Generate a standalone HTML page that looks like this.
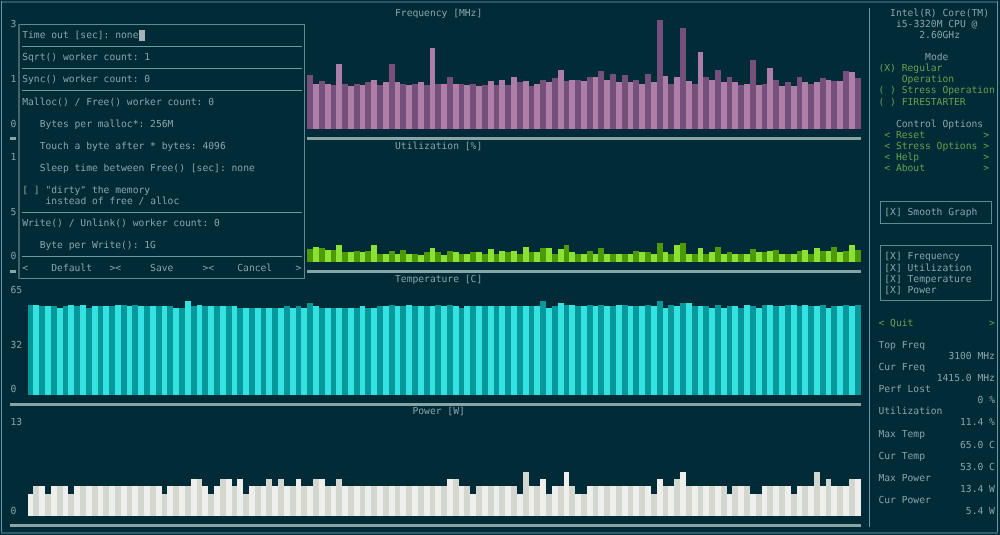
<!DOCTYPE html>
<html><head><meta charset="utf-8"><style>
html,body{margin:0;padding:0;background:#012b37;}
#s{position:relative;width:1000px;height:535px;overflow:hidden;background:#012b37;}
.t{position:absolute;white-space:pre;text-rendering:geometricPrecision;font-family:"DejaVu Sans Mono","Liberation Mono",monospace;font-size:9.675px;line-height:11px;color:#87a3aa;}
.r{position:absolute;}
</style></head><body><div id="s">
<div class="r" style="left:1.00px;top:1.00px;width:997.00px;height:2.00px;background:#2a5661"></div>
<div class="r" style="left:1.00px;top:1.00px;width:1.00px;height:533.00px;background:#6a98a2"></div>
<div class="r" style="left:997.00px;top:1.00px;width:1.00px;height:533.00px;background:#6a98a2"></div>
<div class="r" style="left:1.00px;top:532.00px;width:997.00px;height:2.00px;background:#2f5c66"></div>
<div class="t" style="left:395.00px;top:8px">Frequency [MHz]</div>
<div class="t" style="left:395.00px;top:141px">Utilization [%]</div>
<div class="t" style="left:395.00px;top:274px">Temperature [C]</div>
<div class="t" style="left:412.47px;top:406px">Power [W]</div>
<div class="t" style="left:10.55px;top:19px">3</div>
<div class="t" style="left:10.55px;top:74px">1</div>
<div class="t" style="left:10.55px;top:119px">0</div>
<div class="t" style="left:10.55px;top:152px">1</div>
<div class="t" style="left:10.55px;top:207px">5</div>
<div class="t" style="left:10.55px;top:251px">0</div>
<div class="t" style="left:10.55px;top:285px">65</div>
<div class="t" style="left:10.55px;top:340px">32</div>
<div class="t" style="left:10.55px;top:384px">0</div>
<div class="t" style="left:10.55px;top:417px">13</div>
<div class="t" style="left:10.55px;top:506px">0</div>
<div class="r" style="left:10.00px;top:137.00px;width:851.00px;height:3.00px;background:#88a4a6"></div>
<div class="r" style="left:10.00px;top:270.00px;width:851.00px;height:3.00px;background:#88a4a6"></div>
<div class="r" style="left:10.00px;top:403.00px;width:851.00px;height:3.00px;background:#88a4a6"></div>
<div class="r" style="left:10.00px;top:524.00px;width:851.00px;height:3.00px;background:#88a4a6"></div>
<div class="r" style="left:869.00px;top:8.00px;width:1.00px;height:519.00px;background:#6a98a2"></div>
<div class="t" style="left:890.12px;top:8px">Intel(R) Core(TM)</div>
<div class="t" style="left:895.95px;top:19px">i5-3320M CPU @</div>
<div class="t" style="left:919.25px;top:30px">2.60GHz</div>
<div class="t" style="left:925.08px;top:52px">Mode</div>
<div class="t" style="left:878.48px;top:63px;color:#62a24e">(X) Regular</div>
<div class="t" style="left:901.77px;top:74px;color:#62a24e">Operation</div>
<div class="t" style="left:878.48px;top:85px;color:#62a24e">( ) Stress Operation</div>
<div class="t" style="left:878.48px;top:97px;color:#62a24e">( ) FIRESTARTER</div>
<div class="t" style="left:895.95px;top:119px">Control Options</div>
<div class="t" style="left:884.30px;top:130px;color:#62a24e">&lt; Reset          &gt;</div>
<div class="t" style="left:884.30px;top:141px;color:#62a24e">&lt; Stress Options &gt;</div>
<div class="t" style="left:884.30px;top:152px;color:#62a24e">&lt; Help           &gt;</div>
<div class="t" style="left:884.30px;top:163px;color:#62a24e">&lt; About          &gt;</div>
<div class="t" style="left:884.30px;top:207px">[X] Smooth Graph</div>
<div class="t" style="left:884.30px;top:251px">[X] Frequency</div>
<div class="t" style="left:884.30px;top:263px">[X] Utilization</div>
<div class="t" style="left:884.30px;top:274px">[X] Temperature</div>
<div class="t" style="left:884.30px;top:285px">[X] Power</div>
<div class="t" style="left:878.48px;top:318px;color:#62a24e">&lt; Quit             &gt;</div>
<div class="t" style="left:878.48px;top:340px">Top Freq</div>
<div class="t" style="left:948.38px;top:351px">3100 MHz</div>
<div class="t" style="left:878.48px;top:362px">Cur Freq</div>
<div class="t" style="left:936.73px;top:373px">1415.0 MHz</div>
<div class="t" style="left:878.48px;top:384px">Perf Lost</div>
<div class="t" style="left:977.50px;top:395px">0 %</div>
<div class="t" style="left:878.48px;top:406px">Utilization</div>
<div class="t" style="left:960.02px;top:417px">11.4 %</div>
<div class="t" style="left:878.48px;top:429px">Max Temp</div>
<div class="t" style="left:960.02px;top:440px">65.0 C</div>
<div class="t" style="left:878.48px;top:451px">Cur Temp</div>
<div class="t" style="left:960.02px;top:462px">53.0 C</div>
<div class="t" style="left:878.48px;top:473px">Max Power</div>
<div class="t" style="left:960.02px;top:484px">13.4 W</div>
<div class="t" style="left:878.48px;top:495px">Cur Power</div>
<div class="t" style="left:965.85px;top:506px">5.4 W</div>
<div class="r" style="left:880.00px;top:201.00px;width:112.00px;height:1.00px;background:#5d8b94"></div>
<div class="r" style="left:880.00px;top:223.00px;width:112.00px;height:1.00px;background:#5d8b94"></div>
<div class="r" style="left:880.00px;top:201.00px;width:1.00px;height:23.00px;background:#5d8b94"></div>
<div class="r" style="left:991.00px;top:201.00px;width:1.00px;height:23.00px;background:#5d8b94"></div>
<div class="r" style="left:880.00px;top:245.00px;width:112.00px;height:1.00px;background:#5d8b94"></div>
<div class="r" style="left:880.00px;top:300.00px;width:112.00px;height:1.00px;background:#5d8b94"></div>
<div class="r" style="left:880.00px;top:245.00px;width:1.00px;height:56.00px;background:#5d8b94"></div>
<div class="r" style="left:991.00px;top:245.00px;width:1.00px;height:56.00px;background:#5d8b94"></div>
<div class="r" style="left:307px;top:75px;width:6px;height:54px;background:#75507b"></div>
<div class="r" style="left:313px;top:84px;width:6px;height:45px;background:#ad7fa8"></div>
<div class="r" style="left:319px;top:81px;width:6px;height:48px;background:#75507b"></div>
<div class="r" style="left:325px;top:84px;width:6px;height:45px;background:#ad7fa8"></div>
<div class="r" style="left:331px;top:85px;width:5px;height:44px;background:#75507b"></div>
<div class="r" style="left:336px;top:64px;width:6px;height:65px;background:#ad7fa8"></div>
<div class="r" style="left:342px;top:84px;width:6px;height:45px;background:#75507b"></div>
<div class="r" style="left:348px;top:86px;width:6px;height:43px;background:#ad7fa8"></div>
<div class="r" style="left:354px;top:84px;width:6px;height:45px;background:#75507b"></div>
<div class="r" style="left:360px;top:85px;width:5px;height:44px;background:#ad7fa8"></div>
<div class="r" style="left:365px;top:82px;width:6px;height:47px;background:#75507b"></div>
<div class="r" style="left:371px;top:80px;width:6px;height:49px;background:#ad7fa8"></div>
<div class="r" style="left:377px;top:85px;width:6px;height:44px;background:#75507b"></div>
<div class="r" style="left:383px;top:82px;width:6px;height:47px;background:#ad7fa8"></div>
<div class="r" style="left:389px;top:64px;width:6px;height:65px;background:#75507b"></div>
<div class="r" style="left:395px;top:82px;width:5px;height:47px;background:#ad7fa8"></div>
<div class="r" style="left:400px;top:84px;width:6px;height:45px;background:#75507b"></div>
<div class="r" style="left:406px;top:85px;width:6px;height:44px;background:#ad7fa8"></div>
<div class="r" style="left:412px;top:84px;width:6px;height:45px;background:#75507b"></div>
<div class="r" style="left:418px;top:82px;width:6px;height:47px;background:#ad7fa8"></div>
<div class="r" style="left:424px;top:85px;width:6px;height:44px;background:#75507b"></div>
<div class="r" style="left:430px;top:48px;width:5px;height:81px;background:#ad7fa8"></div>
<div class="r" style="left:435px;top:84px;width:6px;height:45px;background:#75507b"></div>
<div class="r" style="left:441px;top:84px;width:6px;height:45px;background:#ad7fa8"></div>
<div class="r" style="left:447px;top:77px;width:6px;height:52px;background:#75507b"></div>
<div class="r" style="left:453px;top:84px;width:6px;height:45px;background:#ad7fa8"></div>
<div class="r" style="left:459px;top:84px;width:5px;height:45px;background:#75507b"></div>
<div class="r" style="left:464px;top:85px;width:6px;height:44px;background:#ad7fa8"></div>
<div class="r" style="left:470px;top:84px;width:6px;height:45px;background:#75507b"></div>
<div class="r" style="left:476px;top:86px;width:6px;height:43px;background:#ad7fa8"></div>
<div class="r" style="left:482px;top:85px;width:6px;height:44px;background:#75507b"></div>
<div class="r" style="left:488px;top:81px;width:6px;height:48px;background:#ad7fa8"></div>
<div class="r" style="left:494px;top:85px;width:5px;height:44px;background:#75507b"></div>
<div class="r" style="left:499px;top:80px;width:6px;height:49px;background:#ad7fa8"></div>
<div class="r" style="left:505px;top:85px;width:6px;height:44px;background:#75507b"></div>
<div class="r" style="left:511px;top:77px;width:6px;height:52px;background:#ad7fa8"></div>
<div class="r" style="left:517px;top:82px;width:6px;height:47px;background:#75507b"></div>
<div class="r" style="left:523px;top:81px;width:6px;height:48px;background:#ad7fa8"></div>
<div class="r" style="left:529px;top:86px;width:5px;height:43px;background:#75507b"></div>
<div class="r" style="left:534px;top:84px;width:6px;height:45px;background:#ad7fa8"></div>
<div class="r" style="left:540px;top:80px;width:6px;height:49px;background:#75507b"></div>
<div class="r" style="left:546px;top:82px;width:6px;height:47px;background:#ad7fa8"></div>
<div class="r" style="left:552px;top:78px;width:6px;height:51px;background:#75507b"></div>
<div class="r" style="left:558px;top:70px;width:6px;height:59px;background:#ad7fa8"></div>
<div class="r" style="left:564px;top:81px;width:5px;height:48px;background:#75507b"></div>
<div class="r" style="left:569px;top:80px;width:6px;height:49px;background:#ad7fa8"></div>
<div class="r" style="left:575px;top:80px;width:6px;height:49px;background:#75507b"></div>
<div class="r" style="left:581px;top:81px;width:6px;height:48px;background:#ad7fa8"></div>
<div class="r" style="left:587px;top:77px;width:6px;height:52px;background:#75507b"></div>
<div class="r" style="left:593px;top:77px;width:5px;height:52px;background:#ad7fa8"></div>
<div class="r" style="left:598px;top:71px;width:6px;height:58px;background:#75507b"></div>
<div class="r" style="left:604px;top:80px;width:6px;height:49px;background:#ad7fa8"></div>
<div class="r" style="left:610px;top:74px;width:6px;height:55px;background:#75507b"></div>
<div class="r" style="left:616px;top:82px;width:6px;height:47px;background:#ad7fa8"></div>
<div class="r" style="left:622px;top:75px;width:6px;height:54px;background:#75507b"></div>
<div class="r" style="left:628px;top:82px;width:5px;height:47px;background:#ad7fa8"></div>
<div class="r" style="left:633px;top:80px;width:6px;height:49px;background:#75507b"></div>
<div class="r" style="left:639px;top:84px;width:6px;height:45px;background:#ad7fa8"></div>
<div class="r" style="left:645px;top:74px;width:6px;height:55px;background:#75507b"></div>
<div class="r" style="left:651px;top:82px;width:6px;height:47px;background:#ad7fa8"></div>
<div class="r" style="left:657px;top:20px;width:6px;height:109px;background:#75507b"></div>
<div class="r" style="left:663px;top:76px;width:5px;height:53px;background:#ad7fa8"></div>
<div class="r" style="left:668px;top:84px;width:6px;height:45px;background:#75507b"></div>
<div class="r" style="left:674px;top:77px;width:6px;height:52px;background:#ad7fa8"></div>
<div class="r" style="left:680px;top:28px;width:6px;height:101px;background:#75507b"></div>
<div class="r" style="left:686px;top:81px;width:6px;height:48px;background:#ad7fa8"></div>
<div class="r" style="left:692px;top:84px;width:6px;height:45px;background:#75507b"></div>
<div class="r" style="left:698px;top:52px;width:5px;height:77px;background:#ad7fa8"></div>
<div class="r" style="left:703px;top:77px;width:6px;height:52px;background:#75507b"></div>
<div class="r" style="left:709px;top:80px;width:6px;height:49px;background:#ad7fa8"></div>
<div class="r" style="left:715px;top:70px;width:6px;height:59px;background:#75507b"></div>
<div class="r" style="left:721px;top:82px;width:6px;height:47px;background:#ad7fa8"></div>
<div class="r" style="left:727px;top:77px;width:5px;height:52px;background:#75507b"></div>
<div class="r" style="left:732px;top:82px;width:6px;height:47px;background:#ad7fa8"></div>
<div class="r" style="left:738px;top:85px;width:6px;height:44px;background:#75507b"></div>
<div class="r" style="left:744px;top:84px;width:6px;height:45px;background:#ad7fa8"></div>
<div class="r" style="left:750px;top:60px;width:6px;height:69px;background:#75507b"></div>
<div class="r" style="left:756px;top:85px;width:6px;height:44px;background:#ad7fa8"></div>
<div class="r" style="left:762px;top:84px;width:5px;height:45px;background:#75507b"></div>
<div class="r" style="left:767px;top:68px;width:6px;height:61px;background:#ad7fa8"></div>
<div class="r" style="left:773px;top:80px;width:6px;height:49px;background:#75507b"></div>
<div class="r" style="left:779px;top:86px;width:6px;height:43px;background:#ad7fa8"></div>
<div class="r" style="left:785px;top:82px;width:6px;height:47px;background:#75507b"></div>
<div class="r" style="left:791px;top:86px;width:6px;height:43px;background:#ad7fa8"></div>
<div class="r" style="left:797px;top:77px;width:5px;height:52px;background:#75507b"></div>
<div class="r" style="left:802px;top:82px;width:6px;height:47px;background:#ad7fa8"></div>
<div class="r" style="left:808px;top:84px;width:6px;height:45px;background:#75507b"></div>
<div class="r" style="left:814px;top:82px;width:6px;height:47px;background:#ad7fa8"></div>
<div class="r" style="left:820px;top:78px;width:6px;height:51px;background:#75507b"></div>
<div class="r" style="left:826px;top:80px;width:5px;height:49px;background:#ad7fa8"></div>
<div class="r" style="left:831px;top:81px;width:6px;height:48px;background:#75507b"></div>
<div class="r" style="left:837px;top:81px;width:6px;height:48px;background:#ad7fa8"></div>
<div class="r" style="left:843px;top:71px;width:6px;height:58px;background:#75507b"></div>
<div class="r" style="left:849px;top:72px;width:6px;height:57px;background:#ad7fa8"></div>
<div class="r" style="left:855px;top:78px;width:6px;height:51px;background:#75507b"></div>
<div class="r" style="left:307px;top:249px;width:6px;height:13px;background:#4e9a06"></div>
<div class="r" style="left:313px;top:247px;width:6px;height:15px;background:#8ae234"></div>
<div class="r" style="left:319px;top:248px;width:6px;height:14px;background:#4e9a06"></div>
<div class="r" style="left:325px;top:250px;width:6px;height:12px;background:#8ae234"></div>
<div class="r" style="left:331px;top:250px;width:5px;height:12px;background:#4e9a06"></div>
<div class="r" style="left:336px;top:245px;width:6px;height:17px;background:#8ae234"></div>
<div class="r" style="left:342px;top:252px;width:6px;height:10px;background:#4e9a06"></div>
<div class="r" style="left:348px;top:252px;width:6px;height:10px;background:#8ae234"></div>
<div class="r" style="left:354px;top:251px;width:6px;height:11px;background:#4e9a06"></div>
<div class="r" style="left:360px;top:252px;width:5px;height:10px;background:#8ae234"></div>
<div class="r" style="left:365px;top:251px;width:6px;height:11px;background:#4e9a06"></div>
<div class="r" style="left:371px;top:245px;width:6px;height:17px;background:#8ae234"></div>
<div class="r" style="left:377px;top:254px;width:6px;height:8px;background:#4e9a06"></div>
<div class="r" style="left:383px;top:254px;width:6px;height:8px;background:#8ae234"></div>
<div class="r" style="left:389px;top:251px;width:6px;height:11px;background:#4e9a06"></div>
<div class="r" style="left:395px;top:254px;width:5px;height:8px;background:#8ae234"></div>
<div class="r" style="left:400px;top:250px;width:6px;height:12px;background:#4e9a06"></div>
<div class="r" style="left:406px;top:254px;width:6px;height:8px;background:#8ae234"></div>
<div class="r" style="left:412px;top:254px;width:6px;height:8px;background:#4e9a06"></div>
<div class="r" style="left:418px;top:255px;width:6px;height:7px;background:#8ae234"></div>
<div class="r" style="left:424px;top:252px;width:6px;height:10px;background:#4e9a06"></div>
<div class="r" style="left:430px;top:248px;width:5px;height:14px;background:#8ae234"></div>
<div class="r" style="left:435px;top:252px;width:6px;height:10px;background:#4e9a06"></div>
<div class="r" style="left:441px;top:255px;width:6px;height:7px;background:#8ae234"></div>
<div class="r" style="left:447px;top:251px;width:6px;height:11px;background:#4e9a06"></div>
<div class="r" style="left:453px;top:252px;width:6px;height:10px;background:#8ae234"></div>
<div class="r" style="left:459px;top:254px;width:5px;height:8px;background:#4e9a06"></div>
<div class="r" style="left:464px;top:254px;width:6px;height:8px;background:#8ae234"></div>
<div class="r" style="left:470px;top:252px;width:6px;height:10px;background:#4e9a06"></div>
<div class="r" style="left:476px;top:252px;width:6px;height:10px;background:#8ae234"></div>
<div class="r" style="left:482px;top:254px;width:6px;height:8px;background:#4e9a06"></div>
<div class="r" style="left:488px;top:249px;width:6px;height:13px;background:#8ae234"></div>
<div class="r" style="left:494px;top:254px;width:5px;height:8px;background:#4e9a06"></div>
<div class="r" style="left:499px;top:251px;width:6px;height:11px;background:#8ae234"></div>
<div class="r" style="left:505px;top:252px;width:6px;height:10px;background:#4e9a06"></div>
<div class="r" style="left:511px;top:251px;width:6px;height:11px;background:#8ae234"></div>
<div class="r" style="left:517px;top:254px;width:6px;height:8px;background:#4e9a06"></div>
<div class="r" style="left:523px;top:247px;width:6px;height:15px;background:#8ae234"></div>
<div class="r" style="left:529px;top:252px;width:5px;height:10px;background:#4e9a06"></div>
<div class="r" style="left:534px;top:252px;width:6px;height:10px;background:#8ae234"></div>
<div class="r" style="left:540px;top:248px;width:6px;height:14px;background:#4e9a06"></div>
<div class="r" style="left:546px;top:248px;width:6px;height:14px;background:#8ae234"></div>
<div class="r" style="left:552px;top:254px;width:6px;height:8px;background:#4e9a06"></div>
<div class="r" style="left:558px;top:249px;width:6px;height:13px;background:#8ae234"></div>
<div class="r" style="left:564px;top:245px;width:5px;height:17px;background:#4e9a06"></div>
<div class="r" style="left:569px;top:252px;width:6px;height:10px;background:#8ae234"></div>
<div class="r" style="left:575px;top:254px;width:6px;height:8px;background:#4e9a06"></div>
<div class="r" style="left:581px;top:254px;width:6px;height:8px;background:#8ae234"></div>
<div class="r" style="left:587px;top:251px;width:6px;height:11px;background:#4e9a06"></div>
<div class="r" style="left:593px;top:254px;width:5px;height:8px;background:#8ae234"></div>
<div class="r" style="left:598px;top:248px;width:6px;height:14px;background:#4e9a06"></div>
<div class="r" style="left:604px;top:254px;width:6px;height:8px;background:#8ae234"></div>
<div class="r" style="left:610px;top:254px;width:6px;height:8px;background:#4e9a06"></div>
<div class="r" style="left:616px;top:254px;width:6px;height:8px;background:#8ae234"></div>
<div class="r" style="left:622px;top:254px;width:6px;height:8px;background:#4e9a06"></div>
<div class="r" style="left:628px;top:254px;width:5px;height:8px;background:#8ae234"></div>
<div class="r" style="left:633px;top:251px;width:6px;height:11px;background:#4e9a06"></div>
<div class="r" style="left:639px;top:252px;width:6px;height:10px;background:#8ae234"></div>
<div class="r" style="left:645px;top:252px;width:6px;height:10px;background:#4e9a06"></div>
<div class="r" style="left:651px;top:254px;width:6px;height:8px;background:#8ae234"></div>
<div class="r" style="left:657px;top:243px;width:6px;height:19px;background:#4e9a06"></div>
<div class="r" style="left:663px;top:252px;width:5px;height:10px;background:#8ae234"></div>
<div class="r" style="left:668px;top:254px;width:6px;height:8px;background:#4e9a06"></div>
<div class="r" style="left:674px;top:245px;width:6px;height:17px;background:#8ae234"></div>
<div class="r" style="left:680px;top:243px;width:6px;height:19px;background:#4e9a06"></div>
<div class="r" style="left:686px;top:254px;width:6px;height:8px;background:#8ae234"></div>
<div class="r" style="left:692px;top:254px;width:6px;height:8px;background:#4e9a06"></div>
<div class="r" style="left:698px;top:248px;width:5px;height:14px;background:#8ae234"></div>
<div class="r" style="left:703px;top:254px;width:6px;height:8px;background:#4e9a06"></div>
<div class="r" style="left:709px;top:252px;width:6px;height:10px;background:#8ae234"></div>
<div class="r" style="left:715px;top:247px;width:6px;height:15px;background:#4e9a06"></div>
<div class="r" style="left:721px;top:254px;width:6px;height:8px;background:#8ae234"></div>
<div class="r" style="left:727px;top:252px;width:5px;height:10px;background:#4e9a06"></div>
<div class="r" style="left:732px;top:254px;width:6px;height:8px;background:#8ae234"></div>
<div class="r" style="left:738px;top:254px;width:6px;height:8px;background:#4e9a06"></div>
<div class="r" style="left:744px;top:254px;width:6px;height:8px;background:#8ae234"></div>
<div class="r" style="left:750px;top:249px;width:6px;height:13px;background:#4e9a06"></div>
<div class="r" style="left:756px;top:252px;width:6px;height:10px;background:#8ae234"></div>
<div class="r" style="left:762px;top:252px;width:5px;height:10px;background:#4e9a06"></div>
<div class="r" style="left:767px;top:251px;width:6px;height:11px;background:#8ae234"></div>
<div class="r" style="left:773px;top:250px;width:6px;height:12px;background:#4e9a06"></div>
<div class="r" style="left:779px;top:254px;width:6px;height:8px;background:#8ae234"></div>
<div class="r" style="left:785px;top:254px;width:6px;height:8px;background:#4e9a06"></div>
<div class="r" style="left:791px;top:254px;width:6px;height:8px;background:#8ae234"></div>
<div class="r" style="left:797px;top:251px;width:5px;height:11px;background:#4e9a06"></div>
<div class="r" style="left:802px;top:250px;width:6px;height:12px;background:#8ae234"></div>
<div class="r" style="left:808px;top:254px;width:6px;height:8px;background:#4e9a06"></div>
<div class="r" style="left:814px;top:248px;width:6px;height:14px;background:#8ae234"></div>
<div class="r" style="left:820px;top:251px;width:6px;height:11px;background:#4e9a06"></div>
<div class="r" style="left:826px;top:251px;width:5px;height:11px;background:#8ae234"></div>
<div class="r" style="left:831px;top:247px;width:6px;height:15px;background:#4e9a06"></div>
<div class="r" style="left:837px;top:252px;width:6px;height:10px;background:#8ae234"></div>
<div class="r" style="left:843px;top:251px;width:6px;height:11px;background:#4e9a06"></div>
<div class="r" style="left:849px;top:245px;width:6px;height:17px;background:#8ae234"></div>
<div class="r" style="left:855px;top:250px;width:6px;height:12px;background:#4e9a06"></div>
<div class="r" style="left:28px;top:305px;width:5px;height:90px;background:#06989a"></div>
<div class="r" style="left:33px;top:305px;width:6px;height:90px;background:#34e2e2"></div>
<div class="r" style="left:39px;top:306px;width:6px;height:89px;background:#06989a"></div>
<div class="r" style="left:45px;top:306px;width:6px;height:89px;background:#34e2e2"></div>
<div class="r" style="left:51px;top:306px;width:6px;height:89px;background:#06989a"></div>
<div class="r" style="left:57px;top:308px;width:6px;height:87px;background:#34e2e2"></div>
<div class="r" style="left:63px;top:306px;width:5px;height:89px;background:#06989a"></div>
<div class="r" style="left:68px;top:305px;width:6px;height:90px;background:#34e2e2"></div>
<div class="r" style="left:74px;top:306px;width:6px;height:89px;background:#06989a"></div>
<div class="r" style="left:80px;top:305px;width:6px;height:90px;background:#34e2e2"></div>
<div class="r" style="left:86px;top:308px;width:6px;height:87px;background:#06989a"></div>
<div class="r" style="left:92px;top:306px;width:6px;height:89px;background:#34e2e2"></div>
<div class="r" style="left:98px;top:306px;width:5px;height:89px;background:#06989a"></div>
<div class="r" style="left:103px;top:306px;width:6px;height:89px;background:#34e2e2"></div>
<div class="r" style="left:109px;top:306px;width:6px;height:89px;background:#06989a"></div>
<div class="r" style="left:115px;top:305px;width:6px;height:90px;background:#34e2e2"></div>
<div class="r" style="left:121px;top:305px;width:6px;height:90px;background:#06989a"></div>
<div class="r" style="left:127px;top:306px;width:5px;height:89px;background:#34e2e2"></div>
<div class="r" style="left:132px;top:305px;width:6px;height:90px;background:#06989a"></div>
<div class="r" style="left:138px;top:306px;width:6px;height:89px;background:#34e2e2"></div>
<div class="r" style="left:144px;top:306px;width:6px;height:89px;background:#06989a"></div>
<div class="r" style="left:150px;top:306px;width:6px;height:89px;background:#34e2e2"></div>
<div class="r" style="left:156px;top:306px;width:6px;height:89px;background:#06989a"></div>
<div class="r" style="left:162px;top:306px;width:5px;height:89px;background:#34e2e2"></div>
<div class="r" style="left:167px;top:306px;width:6px;height:89px;background:#06989a"></div>
<div class="r" style="left:173px;top:308px;width:6px;height:87px;background:#34e2e2"></div>
<div class="r" style="left:179px;top:308px;width:6px;height:87px;background:#06989a"></div>
<div class="r" style="left:185px;top:301px;width:6px;height:94px;background:#34e2e2"></div>
<div class="r" style="left:191px;top:306px;width:6px;height:89px;background:#06989a"></div>
<div class="r" style="left:197px;top:305px;width:5px;height:90px;background:#34e2e2"></div>
<div class="r" style="left:202px;top:306px;width:6px;height:89px;background:#06989a"></div>
<div class="r" style="left:208px;top:306px;width:6px;height:89px;background:#34e2e2"></div>
<div class="r" style="left:214px;top:306px;width:6px;height:89px;background:#06989a"></div>
<div class="r" style="left:220px;top:306px;width:6px;height:89px;background:#34e2e2"></div>
<div class="r" style="left:226px;top:306px;width:6px;height:89px;background:#06989a"></div>
<div class="r" style="left:232px;top:306px;width:5px;height:89px;background:#34e2e2"></div>
<div class="r" style="left:237px;top:308px;width:6px;height:87px;background:#06989a"></div>
<div class="r" style="left:243px;top:308px;width:6px;height:87px;background:#34e2e2"></div>
<div class="r" style="left:249px;top:308px;width:6px;height:87px;background:#06989a"></div>
<div class="r" style="left:255px;top:308px;width:6px;height:87px;background:#34e2e2"></div>
<div class="r" style="left:261px;top:308px;width:5px;height:87px;background:#06989a"></div>
<div class="r" style="left:266px;top:308px;width:6px;height:87px;background:#34e2e2"></div>
<div class="r" style="left:272px;top:308px;width:6px;height:87px;background:#06989a"></div>
<div class="r" style="left:278px;top:308px;width:6px;height:87px;background:#34e2e2"></div>
<div class="r" style="left:284px;top:306px;width:6px;height:89px;background:#06989a"></div>
<div class="r" style="left:290px;top:308px;width:6px;height:87px;background:#34e2e2"></div>
<div class="r" style="left:296px;top:306px;width:5px;height:89px;background:#06989a"></div>
<div class="r" style="left:301px;top:308px;width:6px;height:87px;background:#34e2e2"></div>
<div class="r" style="left:307px;top:303px;width:6px;height:92px;background:#06989a"></div>
<div class="r" style="left:313px;top:306px;width:6px;height:89px;background:#34e2e2"></div>
<div class="r" style="left:319px;top:308px;width:6px;height:87px;background:#06989a"></div>
<div class="r" style="left:325px;top:308px;width:6px;height:87px;background:#34e2e2"></div>
<div class="r" style="left:331px;top:308px;width:5px;height:87px;background:#06989a"></div>
<div class="r" style="left:336px;top:308px;width:6px;height:87px;background:#34e2e2"></div>
<div class="r" style="left:342px;top:308px;width:6px;height:87px;background:#06989a"></div>
<div class="r" style="left:348px;top:308px;width:6px;height:87px;background:#34e2e2"></div>
<div class="r" style="left:354px;top:308px;width:6px;height:87px;background:#06989a"></div>
<div class="r" style="left:360px;top:306px;width:5px;height:89px;background:#34e2e2"></div>
<div class="r" style="left:365px;top:308px;width:6px;height:87px;background:#06989a"></div>
<div class="r" style="left:371px;top:308px;width:6px;height:87px;background:#34e2e2"></div>
<div class="r" style="left:377px;top:306px;width:6px;height:89px;background:#06989a"></div>
<div class="r" style="left:383px;top:306px;width:6px;height:89px;background:#34e2e2"></div>
<div class="r" style="left:389px;top:305px;width:6px;height:90px;background:#06989a"></div>
<div class="r" style="left:395px;top:306px;width:5px;height:89px;background:#34e2e2"></div>
<div class="r" style="left:400px;top:306px;width:6px;height:89px;background:#06989a"></div>
<div class="r" style="left:406px;top:305px;width:6px;height:90px;background:#34e2e2"></div>
<div class="r" style="left:412px;top:306px;width:6px;height:89px;background:#06989a"></div>
<div class="r" style="left:418px;top:306px;width:6px;height:89px;background:#34e2e2"></div>
<div class="r" style="left:424px;top:306px;width:6px;height:89px;background:#06989a"></div>
<div class="r" style="left:430px;top:306px;width:5px;height:89px;background:#34e2e2"></div>
<div class="r" style="left:435px;top:305px;width:6px;height:90px;background:#06989a"></div>
<div class="r" style="left:441px;top:306px;width:6px;height:89px;background:#34e2e2"></div>
<div class="r" style="left:447px;top:305px;width:6px;height:90px;background:#06989a"></div>
<div class="r" style="left:453px;top:306px;width:6px;height:89px;background:#34e2e2"></div>
<div class="r" style="left:459px;top:308px;width:5px;height:87px;background:#06989a"></div>
<div class="r" style="left:464px;top:306px;width:6px;height:89px;background:#34e2e2"></div>
<div class="r" style="left:470px;top:306px;width:6px;height:89px;background:#06989a"></div>
<div class="r" style="left:476px;top:306px;width:6px;height:89px;background:#34e2e2"></div>
<div class="r" style="left:482px;top:306px;width:6px;height:89px;background:#06989a"></div>
<div class="r" style="left:488px;top:306px;width:6px;height:89px;background:#34e2e2"></div>
<div class="r" style="left:494px;top:306px;width:5px;height:89px;background:#06989a"></div>
<div class="r" style="left:499px;top:306px;width:6px;height:89px;background:#34e2e2"></div>
<div class="r" style="left:505px;top:306px;width:6px;height:89px;background:#06989a"></div>
<div class="r" style="left:511px;top:306px;width:6px;height:89px;background:#34e2e2"></div>
<div class="r" style="left:517px;top:306px;width:6px;height:89px;background:#06989a"></div>
<div class="r" style="left:523px;top:306px;width:6px;height:89px;background:#34e2e2"></div>
<div class="r" style="left:529px;top:306px;width:5px;height:89px;background:#06989a"></div>
<div class="r" style="left:534px;top:306px;width:6px;height:89px;background:#34e2e2"></div>
<div class="r" style="left:540px;top:301px;width:6px;height:94px;background:#06989a"></div>
<div class="r" style="left:546px;top:308px;width:6px;height:87px;background:#34e2e2"></div>
<div class="r" style="left:552px;top:306px;width:6px;height:89px;background:#06989a"></div>
<div class="r" style="left:558px;top:303px;width:6px;height:92px;background:#34e2e2"></div>
<div class="r" style="left:564px;top:305px;width:5px;height:90px;background:#06989a"></div>
<div class="r" style="left:569px;top:305px;width:6px;height:90px;background:#34e2e2"></div>
<div class="r" style="left:575px;top:306px;width:6px;height:89px;background:#06989a"></div>
<div class="r" style="left:581px;top:306px;width:6px;height:89px;background:#34e2e2"></div>
<div class="r" style="left:587px;top:305px;width:6px;height:90px;background:#06989a"></div>
<div class="r" style="left:593px;top:306px;width:5px;height:89px;background:#34e2e2"></div>
<div class="r" style="left:598px;top:305px;width:6px;height:90px;background:#06989a"></div>
<div class="r" style="left:604px;top:306px;width:6px;height:89px;background:#34e2e2"></div>
<div class="r" style="left:610px;top:306px;width:6px;height:89px;background:#06989a"></div>
<div class="r" style="left:616px;top:305px;width:6px;height:90px;background:#34e2e2"></div>
<div class="r" style="left:622px;top:305px;width:6px;height:90px;background:#06989a"></div>
<div class="r" style="left:628px;top:306px;width:5px;height:89px;background:#34e2e2"></div>
<div class="r" style="left:633px;top:306px;width:6px;height:89px;background:#06989a"></div>
<div class="r" style="left:639px;top:306px;width:6px;height:89px;background:#34e2e2"></div>
<div class="r" style="left:645px;top:305px;width:6px;height:90px;background:#06989a"></div>
<div class="r" style="left:651px;top:306px;width:6px;height:89px;background:#34e2e2"></div>
<div class="r" style="left:657px;top:301px;width:6px;height:94px;background:#06989a"></div>
<div class="r" style="left:663px;top:308px;width:5px;height:87px;background:#34e2e2"></div>
<div class="r" style="left:668px;top:305px;width:6px;height:90px;background:#06989a"></div>
<div class="r" style="left:674px;top:306px;width:6px;height:89px;background:#34e2e2"></div>
<div class="r" style="left:680px;top:303px;width:6px;height:92px;background:#06989a"></div>
<div class="r" style="left:686px;top:303px;width:6px;height:92px;background:#34e2e2"></div>
<div class="r" style="left:692px;top:306px;width:6px;height:89px;background:#06989a"></div>
<div class="r" style="left:698px;top:306px;width:5px;height:89px;background:#34e2e2"></div>
<div class="r" style="left:703px;top:306px;width:6px;height:89px;background:#06989a"></div>
<div class="r" style="left:709px;top:308px;width:6px;height:87px;background:#34e2e2"></div>
<div class="r" style="left:715px;top:305px;width:6px;height:90px;background:#06989a"></div>
<div class="r" style="left:721px;top:308px;width:6px;height:87px;background:#34e2e2"></div>
<div class="r" style="left:727px;top:306px;width:5px;height:89px;background:#06989a"></div>
<div class="r" style="left:732px;top:306px;width:6px;height:89px;background:#34e2e2"></div>
<div class="r" style="left:738px;top:308px;width:6px;height:87px;background:#06989a"></div>
<div class="r" style="left:744px;top:305px;width:6px;height:90px;background:#34e2e2"></div>
<div class="r" style="left:750px;top:306px;width:6px;height:89px;background:#06989a"></div>
<div class="r" style="left:756px;top:308px;width:6px;height:87px;background:#34e2e2"></div>
<div class="r" style="left:762px;top:305px;width:5px;height:90px;background:#06989a"></div>
<div class="r" style="left:767px;top:305px;width:6px;height:90px;background:#34e2e2"></div>
<div class="r" style="left:773px;top:306px;width:6px;height:89px;background:#06989a"></div>
<div class="r" style="left:779px;top:306px;width:6px;height:89px;background:#34e2e2"></div>
<div class="r" style="left:785px;top:305px;width:6px;height:90px;background:#06989a"></div>
<div class="r" style="left:791px;top:305px;width:6px;height:90px;background:#34e2e2"></div>
<div class="r" style="left:797px;top:306px;width:5px;height:89px;background:#06989a"></div>
<div class="r" style="left:802px;top:305px;width:6px;height:90px;background:#34e2e2"></div>
<div class="r" style="left:808px;top:306px;width:6px;height:89px;background:#06989a"></div>
<div class="r" style="left:814px;top:306px;width:6px;height:89px;background:#34e2e2"></div>
<div class="r" style="left:820px;top:305px;width:6px;height:90px;background:#06989a"></div>
<div class="r" style="left:826px;top:308px;width:5px;height:87px;background:#34e2e2"></div>
<div class="r" style="left:831px;top:306px;width:6px;height:89px;background:#06989a"></div>
<div class="r" style="left:837px;top:306px;width:6px;height:89px;background:#34e2e2"></div>
<div class="r" style="left:843px;top:305px;width:6px;height:90px;background:#06989a"></div>
<div class="r" style="left:849px;top:306px;width:6px;height:89px;background:#34e2e2"></div>
<div class="r" style="left:855px;top:305px;width:6px;height:90px;background:#06989a"></div>
<div class="r" style="left:28px;top:494px;width:5px;height:22px;background:#eeeeec"></div>
<div class="r" style="left:33px;top:486px;width:6px;height:30px;background:#d3d7cf"></div>
<div class="r" style="left:39px;top:486px;width:6px;height:30px;background:#eeeeec"></div>
<div class="r" style="left:45px;top:494px;width:6px;height:22px;background:#d3d7cf"></div>
<div class="r" style="left:51px;top:486px;width:6px;height:30px;background:#eeeeec"></div>
<div class="r" style="left:57px;top:486px;width:6px;height:30px;background:#d3d7cf"></div>
<div class="r" style="left:63px;top:486px;width:5px;height:30px;background:#eeeeec"></div>
<div class="r" style="left:68px;top:494px;width:6px;height:22px;background:#d3d7cf"></div>
<div class="r" style="left:74px;top:486px;width:6px;height:30px;background:#eeeeec"></div>
<div class="r" style="left:80px;top:486px;width:6px;height:30px;background:#d3d7cf"></div>
<div class="r" style="left:86px;top:486px;width:6px;height:30px;background:#eeeeec"></div>
<div class="r" style="left:92px;top:486px;width:6px;height:30px;background:#d3d7cf"></div>
<div class="r" style="left:98px;top:486px;width:5px;height:30px;background:#eeeeec"></div>
<div class="r" style="left:103px;top:486px;width:6px;height:30px;background:#d3d7cf"></div>
<div class="r" style="left:109px;top:486px;width:6px;height:30px;background:#eeeeec"></div>
<div class="r" style="left:115px;top:486px;width:6px;height:30px;background:#d3d7cf"></div>
<div class="r" style="left:121px;top:486px;width:6px;height:30px;background:#eeeeec"></div>
<div class="r" style="left:127px;top:486px;width:5px;height:30px;background:#d3d7cf"></div>
<div class="r" style="left:132px;top:486px;width:6px;height:30px;background:#eeeeec"></div>
<div class="r" style="left:138px;top:486px;width:6px;height:30px;background:#d3d7cf"></div>
<div class="r" style="left:144px;top:486px;width:6px;height:30px;background:#eeeeec"></div>
<div class="r" style="left:150px;top:486px;width:6px;height:30px;background:#d3d7cf"></div>
<div class="r" style="left:156px;top:486px;width:6px;height:30px;background:#eeeeec"></div>
<div class="r" style="left:162px;top:494px;width:5px;height:22px;background:#d3d7cf"></div>
<div class="r" style="left:167px;top:486px;width:6px;height:30px;background:#eeeeec"></div>
<div class="r" style="left:173px;top:486px;width:6px;height:30px;background:#d3d7cf"></div>
<div class="r" style="left:179px;top:486px;width:6px;height:30px;background:#eeeeec"></div>
<div class="r" style="left:185px;top:486px;width:6px;height:30px;background:#d3d7cf"></div>
<div class="r" style="left:191px;top:479px;width:6px;height:37px;background:#eeeeec"></div>
<div class="r" style="left:197px;top:479px;width:5px;height:37px;background:#d3d7cf"></div>
<div class="r" style="left:202px;top:486px;width:6px;height:30px;background:#eeeeec"></div>
<div class="r" style="left:208px;top:494px;width:6px;height:22px;background:#d3d7cf"></div>
<div class="r" style="left:214px;top:486px;width:6px;height:30px;background:#eeeeec"></div>
<div class="r" style="left:220px;top:479px;width:6px;height:37px;background:#d3d7cf"></div>
<div class="r" style="left:226px;top:479px;width:6px;height:37px;background:#eeeeec"></div>
<div class="r" style="left:232px;top:486px;width:5px;height:30px;background:#d3d7cf"></div>
<div class="r" style="left:237px;top:479px;width:6px;height:37px;background:#eeeeec"></div>
<div class="r" style="left:243px;top:494px;width:6px;height:22px;background:#d3d7cf"></div>
<div class="r" style="left:249px;top:486px;width:6px;height:30px;background:#eeeeec"></div>
<div class="r" style="left:255px;top:486px;width:6px;height:30px;background:#d3d7cf"></div>
<div class="r" style="left:261px;top:486px;width:5px;height:30px;background:#eeeeec"></div>
<div class="r" style="left:266px;top:479px;width:6px;height:37px;background:#d3d7cf"></div>
<div class="r" style="left:272px;top:486px;width:6px;height:30px;background:#eeeeec"></div>
<div class="r" style="left:278px;top:479px;width:6px;height:37px;background:#d3d7cf"></div>
<div class="r" style="left:284px;top:486px;width:6px;height:30px;background:#eeeeec"></div>
<div class="r" style="left:290px;top:486px;width:6px;height:30px;background:#d3d7cf"></div>
<div class="r" style="left:296px;top:479px;width:5px;height:37px;background:#eeeeec"></div>
<div class="r" style="left:301px;top:486px;width:6px;height:30px;background:#d3d7cf"></div>
<div class="r" style="left:307px;top:486px;width:6px;height:30px;background:#eeeeec"></div>
<div class="r" style="left:313px;top:479px;width:6px;height:37px;background:#d3d7cf"></div>
<div class="r" style="left:319px;top:479px;width:6px;height:37px;background:#eeeeec"></div>
<div class="r" style="left:325px;top:486px;width:6px;height:30px;background:#d3d7cf"></div>
<div class="r" style="left:331px;top:486px;width:5px;height:30px;background:#eeeeec"></div>
<div class="r" style="left:336px;top:479px;width:6px;height:37px;background:#d3d7cf"></div>
<div class="r" style="left:342px;top:486px;width:6px;height:30px;background:#eeeeec"></div>
<div class="r" style="left:348px;top:486px;width:6px;height:30px;background:#d3d7cf"></div>
<div class="r" style="left:354px;top:486px;width:6px;height:30px;background:#eeeeec"></div>
<div class="r" style="left:360px;top:486px;width:5px;height:30px;background:#d3d7cf"></div>
<div class="r" style="left:365px;top:486px;width:6px;height:30px;background:#eeeeec"></div>
<div class="r" style="left:371px;top:486px;width:6px;height:30px;background:#d3d7cf"></div>
<div class="r" style="left:377px;top:486px;width:6px;height:30px;background:#eeeeec"></div>
<div class="r" style="left:383px;top:486px;width:6px;height:30px;background:#d3d7cf"></div>
<div class="r" style="left:389px;top:486px;width:6px;height:30px;background:#eeeeec"></div>
<div class="r" style="left:395px;top:486px;width:5px;height:30px;background:#d3d7cf"></div>
<div class="r" style="left:400px;top:486px;width:6px;height:30px;background:#eeeeec"></div>
<div class="r" style="left:406px;top:486px;width:6px;height:30px;background:#d3d7cf"></div>
<div class="r" style="left:412px;top:486px;width:6px;height:30px;background:#eeeeec"></div>
<div class="r" style="left:418px;top:486px;width:6px;height:30px;background:#d3d7cf"></div>
<div class="r" style="left:424px;top:486px;width:6px;height:30px;background:#eeeeec"></div>
<div class="r" style="left:430px;top:486px;width:5px;height:30px;background:#d3d7cf"></div>
<div class="r" style="left:435px;top:486px;width:6px;height:30px;background:#eeeeec"></div>
<div class="r" style="left:441px;top:486px;width:6px;height:30px;background:#d3d7cf"></div>
<div class="r" style="left:447px;top:479px;width:6px;height:37px;background:#eeeeec"></div>
<div class="r" style="left:453px;top:479px;width:6px;height:37px;background:#d3d7cf"></div>
<div class="r" style="left:459px;top:486px;width:5px;height:30px;background:#eeeeec"></div>
<div class="r" style="left:464px;top:486px;width:6px;height:30px;background:#d3d7cf"></div>
<div class="r" style="left:470px;top:494px;width:6px;height:22px;background:#eeeeec"></div>
<div class="r" style="left:476px;top:486px;width:6px;height:30px;background:#d3d7cf"></div>
<div class="r" style="left:482px;top:486px;width:6px;height:30px;background:#eeeeec"></div>
<div class="r" style="left:488px;top:486px;width:6px;height:30px;background:#d3d7cf"></div>
<div class="r" style="left:494px;top:486px;width:5px;height:30px;background:#eeeeec"></div>
<div class="r" style="left:499px;top:486px;width:6px;height:30px;background:#d3d7cf"></div>
<div class="r" style="left:505px;top:486px;width:6px;height:30px;background:#eeeeec"></div>
<div class="r" style="left:511px;top:486px;width:6px;height:30px;background:#d3d7cf"></div>
<div class="r" style="left:517px;top:494px;width:6px;height:22px;background:#eeeeec"></div>
<div class="r" style="left:523px;top:472px;width:6px;height:44px;background:#d3d7cf"></div>
<div class="r" style="left:529px;top:486px;width:5px;height:30px;background:#eeeeec"></div>
<div class="r" style="left:534px;top:486px;width:6px;height:30px;background:#d3d7cf"></div>
<div class="r" style="left:540px;top:479px;width:6px;height:37px;background:#eeeeec"></div>
<div class="r" style="left:546px;top:494px;width:6px;height:22px;background:#d3d7cf"></div>
<div class="r" style="left:552px;top:486px;width:6px;height:30px;background:#eeeeec"></div>
<div class="r" style="left:558px;top:486px;width:6px;height:30px;background:#d3d7cf"></div>
<div class="r" style="left:564px;top:472px;width:5px;height:44px;background:#eeeeec"></div>
<div class="r" style="left:569px;top:486px;width:6px;height:30px;background:#d3d7cf"></div>
<div class="r" style="left:575px;top:494px;width:6px;height:22px;background:#eeeeec"></div>
<div class="r" style="left:581px;top:494px;width:6px;height:22px;background:#d3d7cf"></div>
<div class="r" style="left:587px;top:486px;width:6px;height:30px;background:#eeeeec"></div>
<div class="r" style="left:593px;top:486px;width:5px;height:30px;background:#d3d7cf"></div>
<div class="r" style="left:598px;top:486px;width:6px;height:30px;background:#eeeeec"></div>
<div class="r" style="left:604px;top:486px;width:6px;height:30px;background:#d3d7cf"></div>
<div class="r" style="left:610px;top:486px;width:6px;height:30px;background:#eeeeec"></div>
<div class="r" style="left:616px;top:486px;width:6px;height:30px;background:#d3d7cf"></div>
<div class="r" style="left:622px;top:486px;width:6px;height:30px;background:#eeeeec"></div>
<div class="r" style="left:628px;top:486px;width:5px;height:30px;background:#d3d7cf"></div>
<div class="r" style="left:633px;top:486px;width:6px;height:30px;background:#eeeeec"></div>
<div class="r" style="left:639px;top:486px;width:6px;height:30px;background:#d3d7cf"></div>
<div class="r" style="left:645px;top:486px;width:6px;height:30px;background:#eeeeec"></div>
<div class="r" style="left:651px;top:494px;width:6px;height:22px;background:#d3d7cf"></div>
<div class="r" style="left:657px;top:479px;width:6px;height:37px;background:#eeeeec"></div>
<div class="r" style="left:663px;top:486px;width:5px;height:30px;background:#d3d7cf"></div>
<div class="r" style="left:668px;top:486px;width:6px;height:30px;background:#eeeeec"></div>
<div class="r" style="left:674px;top:479px;width:6px;height:37px;background:#d3d7cf"></div>
<div class="r" style="left:680px;top:472px;width:6px;height:44px;background:#eeeeec"></div>
<div class="r" style="left:686px;top:486px;width:6px;height:30px;background:#d3d7cf"></div>
<div class="r" style="left:692px;top:486px;width:6px;height:30px;background:#eeeeec"></div>
<div class="r" style="left:698px;top:486px;width:5px;height:30px;background:#d3d7cf"></div>
<div class="r" style="left:703px;top:486px;width:6px;height:30px;background:#eeeeec"></div>
<div class="r" style="left:709px;top:486px;width:6px;height:30px;background:#d3d7cf"></div>
<div class="r" style="left:715px;top:486px;width:6px;height:30px;background:#eeeeec"></div>
<div class="r" style="left:721px;top:486px;width:6px;height:30px;background:#d3d7cf"></div>
<div class="r" style="left:727px;top:494px;width:5px;height:22px;background:#eeeeec"></div>
<div class="r" style="left:732px;top:486px;width:6px;height:30px;background:#d3d7cf"></div>
<div class="r" style="left:738px;top:486px;width:6px;height:30px;background:#eeeeec"></div>
<div class="r" style="left:744px;top:486px;width:6px;height:30px;background:#d3d7cf"></div>
<div class="r" style="left:750px;top:494px;width:6px;height:22px;background:#eeeeec"></div>
<div class="r" style="left:756px;top:494px;width:6px;height:22px;background:#d3d7cf"></div>
<div class="r" style="left:762px;top:486px;width:5px;height:30px;background:#eeeeec"></div>
<div class="r" style="left:767px;top:486px;width:6px;height:30px;background:#d3d7cf"></div>
<div class="r" style="left:773px;top:486px;width:6px;height:30px;background:#eeeeec"></div>
<div class="r" style="left:779px;top:486px;width:6px;height:30px;background:#d3d7cf"></div>
<div class="r" style="left:785px;top:486px;width:6px;height:30px;background:#eeeeec"></div>
<div class="r" style="left:791px;top:494px;width:6px;height:22px;background:#d3d7cf"></div>
<div class="r" style="left:797px;top:486px;width:5px;height:30px;background:#eeeeec"></div>
<div class="r" style="left:802px;top:486px;width:6px;height:30px;background:#d3d7cf"></div>
<div class="r" style="left:808px;top:486px;width:6px;height:30px;background:#eeeeec"></div>
<div class="r" style="left:814px;top:472px;width:6px;height:44px;background:#d3d7cf"></div>
<div class="r" style="left:820px;top:486px;width:6px;height:30px;background:#eeeeec"></div>
<div class="r" style="left:826px;top:479px;width:5px;height:37px;background:#d3d7cf"></div>
<div class="r" style="left:831px;top:486px;width:6px;height:30px;background:#eeeeec"></div>
<div class="r" style="left:837px;top:486px;width:6px;height:30px;background:#d3d7cf"></div>
<div class="r" style="left:843px;top:486px;width:6px;height:30px;background:#eeeeec"></div>
<div class="r" style="left:849px;top:479px;width:6px;height:37px;background:#d3d7cf"></div>
<div class="r" style="left:855px;top:479px;width:6px;height:37px;background:#eeeeec"></div>
<div class="r" style="left:15.98px;top:18.23px;width:291.25px;height:265.61px;background:#012b37"></div>
<div class="r" style="left:18.00px;top:24.00px;width:287.00px;height:1.00px;background:#5f8a94"></div>
<div class="r" style="left:18.00px;top:278.00px;width:287.00px;height:1.00px;background:#5f8a94"></div>
<div class="r" style="left:18.00px;top:24.00px;width:1.00px;height:255.00px;background:#5f8a94"></div>
<div class="r" style="left:304.00px;top:24.00px;width:1.00px;height:255.00px;background:#5f8a94"></div>
<div class="r" style="left:18.00px;top:24.00px;width:2.00px;height:255.00px;background:#46636e"></div>
<div class="r" style="left:22.00px;top:46.00px;width:280.00px;height:1.00px;background:#6a9aa2"></div>
<div class="r" style="left:22.00px;top:68.00px;width:280.00px;height:1.00px;background:#6a9aa2"></div>
<div class="r" style="left:22.00px;top:90.00px;width:280.00px;height:1.00px;background:#6a9aa2"></div>
<div class="r" style="left:22.00px;top:212.00px;width:280.00px;height:1.00px;background:#6a9aa2"></div>
<div class="r" style="left:22.00px;top:256.00px;width:280.00px;height:1.00px;background:#6a9aa2"></div>
<div class="t" style="left:22.20px;top:30px">Time out [sec]: none</div>
<div class="r" style="left:139.00px;top:30.00px;width:6.00px;height:11.00px;background:#a5b3b6"></div>
<div class="t" style="left:22.20px;top:52px">Sqrt() worker count: 1</div>
<div class="t" style="left:22.20px;top:74px">Sync() worker count: 0</div>
<div class="t" style="left:22.20px;top:97px">Malloc() / Free() worker count: 0</div>
<div class="t" style="left:39.67px;top:119px">Bytes per malloc*: 256M</div>
<div class="t" style="left:39.67px;top:141px">Touch a byte after * bytes: 4096</div>
<div class="t" style="left:39.67px;top:163px">Sleep time between Free() [sec]: none</div>
<div class="t" style="left:22.20px;top:185px">[ ] "dirty" the memory</div>
<div class="t" style="left:45.50px;top:196px">instead of free / alloc</div>
<div class="t" style="left:22.20px;top:218px">Write() / Unlink() worker count: 0</div>
<div class="t" style="left:39.67px;top:240px">Byte per Write(): 1G</div>
<div class="t" style="left:22.20px;top:263px">&lt;    Default   &gt;&lt;     Save     &gt;&lt;    Cancel    &gt;</div>
</div></body></html>
